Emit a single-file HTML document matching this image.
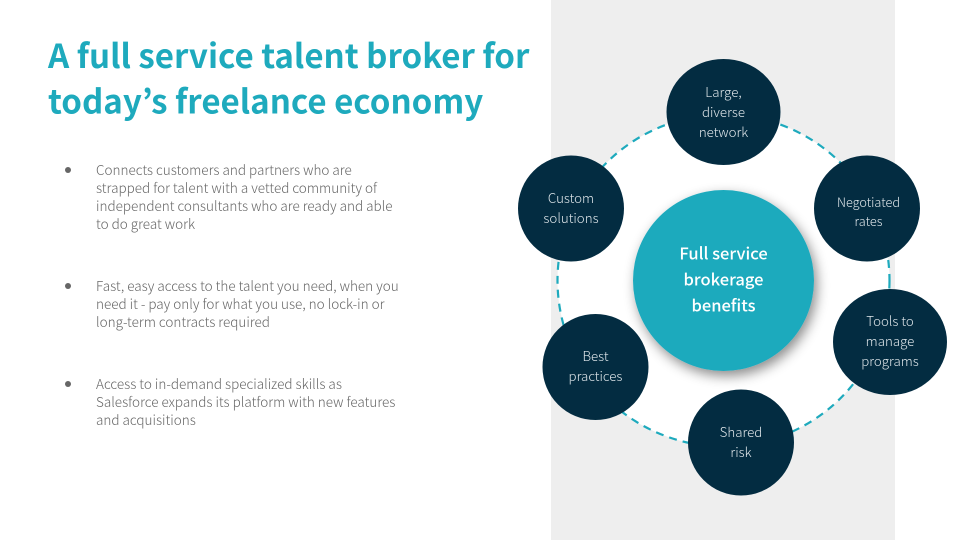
<!DOCTYPE html>
<html><head><meta charset="utf-8"><style>
html,body{margin:0;padding:0;background:#fff}
svg{display:block}
text{font-family:"Noto Sans CJK JP","Noto Sans CJK SC","Liberation Sans",sans-serif}
.t{font-size:33.1px;font-weight:700;fill:#1eaabd}
.b{font-size:13.5px;fill:#666;font-weight:300}
.n{font-size:13.3px;fill:#dfe6ea;text-anchor:middle;font-weight:300}
.c{font-size:16.5px;fill:#fff;text-anchor:middle;font-weight:500}
</style></head><body>
<svg width="960" height="540" viewBox="0 0 960 540" xmlns="http://www.w3.org/2000/svg">
<defs><filter id="s" x="-30%" y="-30%" width="160%" height="160%"><feDropShadow dx="3" dy="5" stdDeviation="6" flood-color="#000" flood-opacity=".45"/></filter></defs>
<rect width="960" height="540" fill="#fff"/>
<rect x="551" y="0" width="344" height="540" fill="#eeeeee"/>
<circle cx="723.5" cy="280.5" r="166" fill="#fff" stroke="#1eaabd" stroke-width="2.2" stroke-dasharray="8 6"/>
<circle cx="723.5" cy="280.5" r="90.5" fill="#1eaabd" filter="url(#s)"/>
<ellipse cx="723.5" cy="112" rx="57" ry="53" fill="#032c41"/>
<circle cx="571" cy="208.5" r="53" fill="#032c41"/>
<circle cx="867" cy="208.5" r="53" fill="#032c41"/>
<ellipse cx="890" cy="342" rx="57" ry="53" fill="#032c41"/>
<circle cx="595.500" cy="367" r="53" fill="#032c41"/>
<circle cx="741" cy="442.500" r="53" fill="#032c41"/>
<text class="t" x="48" y="68">A full service talent broker for</text>
<text class="t" x="48" y="113.5">today’s freelance economy</text>
<circle cx="68" cy="170" r="3" fill="#666"/>
<circle cx="68" cy="286" r="3" fill="#666"/>
<circle cx="68" cy="384" r="3" fill="#666"/>
<g class="b">
<text class="b" x="96" y="175">Connects customers and partners who are</text>
<text class="b" x="96" y="193">strapped for talent with a vetted community of</text>
<text class="b" x="96" y="211">independent consultants who are ready and able</text>
<text class="b" x="96" y="229">to do great work</text>
<text class="b" x="96" y="291">Fast, easy access to the talent you need, when you</text>
<text class="b" x="96" y="309">need it - pay only for what you use, no lock-in or</text>
<text class="b" x="96" y="327">long-term contracts required</text>
<text class="b" x="96" y="389">Access to in-demand specialized skills as</text>
<text class="b" x="96" y="407">Salesforce expands its platform with new features</text>
<text class="b" x="96" y="425">and acquisitions</text>
</g>
<text class="n" x="723.5" y="97">Large,</text>
<text class="n" x="723.5" y="117">diverse</text>
<text class="n" x="723.5" y="137">network</text>
<text class="n" x="571" y="203">Custom</text>
<text class="n" x="571" y="223">solutions</text>
<text class="n" x="868.500" y="207" style="font-size:12.7px">Negotiated</text>
<text class="n" x="868.500" y="226" style="font-size:12.7px">rates</text>
<text class="n" x="890" y="326">Tools to</text>
<text class="n" x="890" y="346">manage</text>
<text class="n" x="890" y="366">programs</text>
<text class="n" x="595.500" y="361">Best</text>
<text class="n" x="595.500" y="381">practices</text>
<text class="n" x="741" y="437">Shared</text>
<text class="n" x="741" y="457">risk</text>
<text class="c" x="723.500" y="259.500">Full service</text>
<text class="c" x="723.500" y="285.500">brokerage</text>
<text class="c" x="723.500" y="311.500">benefits</text>
</svg>
</body></html>
